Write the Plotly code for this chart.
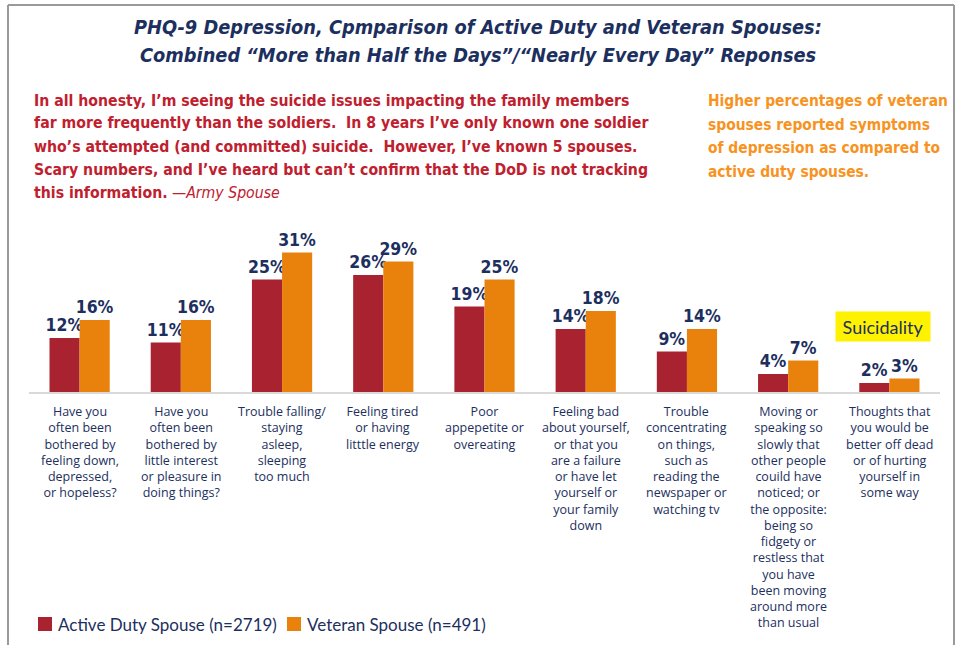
import plotly.graph_objects as go

categories = [
    "Have you<br>often been<br>bothered by<br>feeling down,<br>depressed,<br>or hopeless?",
    "Have you<br>often been<br>bothered by<br>little interest<br>or pleasure in<br>doing things?",
    "Trouble falling/<br>staying<br>asleep,<br>sleeping<br>too much",
    "Feeling tired<br>or having<br>litttle energy",
    "Poor<br>appepetite or<br>overeating",
    "Feeling bad<br>about yourself,<br>or that you<br>are a failure<br>or have let<br>yourself or<br>your family<br>down",
    "Trouble<br>concentrating<br>on things,<br>such as<br>reading the<br>newspaper or<br>watching tv",
    "Moving or<br>speaking so<br>slowly that<br>other people<br>couild have<br>noticed; or<br>the opposite:<br>being so<br>fidgety or<br>restless that<br>you have<br>been moving<br>around more<br>than usual",
    "Thoughts that<br>you would be<br>better off dead<br>or of hurting<br>yourself in<br>some way",
]
active_duty = [12, 11, 25, 26, 19, 14, 9, 4, 2]
veteran = [16, 16, 31, 29, 25, 18, 14, 7, 3]
series_names = ["Active Duty Spouse (n=2719)", "Veteran Spouse (n=491)"]

title_lines = [
    "PHQ-9 Depression, Cpmparison of Active Duty and Veteran Spouses:",
    "Combined \u201cMore than Half the Days\u201d/\u201cNearly Every Day\u201d Reponses",
]
quote_lines = [
    "<b>In all honesty, I\u2019m seeing the suicide issues impacting the family members</b>",
    "<b>far more frequently than the soldiers.  In 8 years I\u2019ve only known one soldier</b>",
    "<b>who\u2019s attempted (and committed) suicide.  However, I\u2019ve known 5 spouses.</b>",
    "<b>Scary numbers, and I\u2019ve heard but can\u2019t confirm that the DoD is not tracking</b>",
    "<b>this information.</b> <i>\u2014Army Spouse</i>",
]
note_lines = [
    "Higher percentages of veteran",
    "spouses reported symptoms",
    "of depression as compared to",
    "active duty spouses.",
]
highlight_text = "Suicidality"

W, H = 957, 645
NAVY = "#1c2f5e"
RED = "#a8232f"
ORANGE = "#e8820c"
COND = "DejaVu Sans Condensed, Liberation Sans Narrow, Arial Narrow, sans-serif"
BODY = "Open Sans, Noto Sans, sans-serif"
LEG = "Lato, Noto Sans, sans-serif"

def py(px):
    return 1 - px / H

def px_x(px):
    return px / W

x_idx = list(range(len(categories)))

fig = go.Figure()
for vals, color, name in [(active_duty, RED, series_names[0]), (veteran, ORANGE, series_names[1])]:
    fig.add_trace(go.Bar(
        x=x_idx, y=vals, name=name, marker=dict(color=color, line=dict(width=0)),
        text=[f"{v}%" for v in vals], textposition="outside", constraintext="none",
        textfont=dict(family=COND, size=17.5, color=NAVY, weight="bold"),
        cliponaxis=False, showlegend=False,
    ))

annotations = []
for i, cat in enumerate(categories):
    annotations.append(dict(
        x=i, xref="x", y=py(401), yref="paper", text=cat, showarrow=False,
        xanchor="center", yanchor="top", align="center",
        font=dict(family=BODY, size=12.5, color=NAVY),
    ))

for line, yc in zip(title_lines, [28, 55]):
    annotations.append(dict(
        x=px_x(478), xref="paper", y=py(yc), yref="paper", text=line, showarrow=False,
        xanchor="center", yanchor="middle",
        font=dict(family=COND, size=19.8, color=NAVY, weight="bold", style="italic"),
    ))
for line, yc in zip(quote_lines, [100, 123, 146, 169, 193]):
    annotations.append(dict(
        x=px_x(32), xref="paper", y=py(yc), yref="paper", text=line, showarrow=False,
        xanchor="left", yanchor="middle", align="left",
        font=dict(family=COND, size=15.7, color="#c0202e"),
    ))
for line, yc in zip(note_lines, [101, 125, 148, 172]):
    annotations.append(dict(
        x=px_x(706), xref="paper", y=py(yc), yref="paper", text=f"<b>{line}</b>", showarrow=False,
        xanchor="left", yanchor="middle", align="left",
        font=dict(family=COND, size=15.4, color="#f7931e"),
    ))
annotations.append(dict(
    x=px_x(883), xref="paper", y=py(326.5), yref="paper", text=highlight_text, showarrow=False,
    xanchor="center", yanchor="middle", width=92, height=27, bgcolor="#fff200",
    font=dict(family=LEG, size=18, color=NAVY),
))

# manual legend
shapes = []
legend_items = [(series_names[0], RED, 38), (series_names[1], ORANGE, 287)]
for name, color, x0 in legend_items:
    shapes.append(dict(type="rect", xref="paper", yref="paper",
                       x0=px_x(x0), x1=px_x(x0 + 14), y0=py(631), y1=py(617),
                       fillcolor=color, line=dict(width=0)))
    annotations.append(dict(
        x=px_x(x0 + 18), xref="paper", y=py(624), yref="paper", text=name, showarrow=False,
        xanchor="left", yanchor="middle", font=dict(family=LEG, size=17, color=NAVY),
    ))

# frame
for (x0, y0, x1, y1) in [(8, 5, 954, 5), (8, 5, 8, 650), (954, 5, 954, 650)]:
    shapes.append(dict(type="line", xref="paper", yref="paper",
                       x0=px_x(x0), x1=px_x(x1), y0=py(y0), y1=py(y1),
                       line=dict(color="#9a9a9a", width=2)))

fig.update_layout(
    width=W, height=H, margin=dict(l=0, r=0, t=0, b=0),
    paper_bgcolor="white", plot_bgcolor="white",
    barmode="group", bargap=0.405, bargroupgap=0,
    xaxis=dict(domain=[px_x(29), px_x(940)], range=[-0.5, len(categories) - 0.5],
               showticklabels=False, ticks="", showgrid=False, zeroline=False,
               showline=True, linecolor="#d9d9d9", linewidth=2, fixedrange=True),
    yaxis=dict(domain=[py(392), py(230)], range=[0, 36], visible=False, fixedrange=True),
    annotations=annotations, shapes=shapes, showlegend=False,
)

fig.write_html("out.html", config={"displayModeBar": False},
               post_script="document.body.style.margin='0';")
